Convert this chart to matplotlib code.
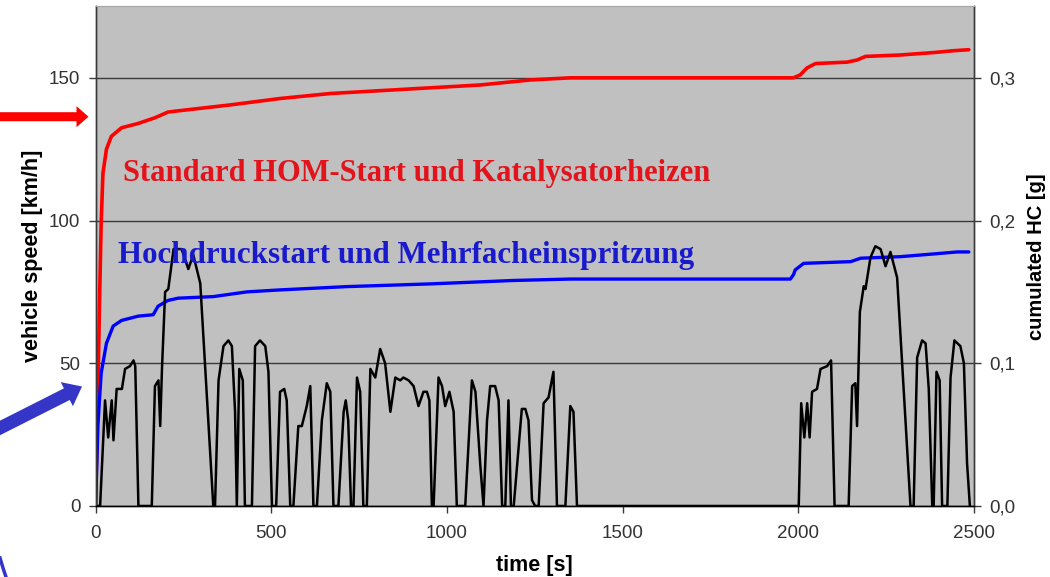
import matplotlib
matplotlib.use('Agg')
import matplotlib.pyplot as plt
from matplotlib.patches import FancyArrow
from matplotlib.ticker import FuncFormatter

# FTP-75 vehicle speed, split by test phase (time [s], speed [km/h])
cold_t = [0, 13, 27, 36, 46, 51, 56, 60, 75, 84, 98, 108, 113, 122, 160, 169, 179, 184, 189, 198,
          207, 222, 245, 264, 278, 298, 335, 340, 350, 364, 378, 388, 397, 402, 409, 419, 425, 445,
          454, 468, 483, 492, 502]
cold_v = [0, 0, 37, 24, 37, 23, 33, 41, 41, 48, 49, 51, 49, 0, 0, 42, 44, 28, 48, 75,
          76, 90, 90, 83, 88, 78, 0, 0, 44, 56, 58, 56, 33, 0, 48, 44, 0, 0,
          56, 58, 56, 47, 0]

stab_t = [514, 525, 537, 544, 554, 563, 577, 587, 601, 611, 620, 630, 644, 658, 668, 677, 691, 706,
          712, 719, 727, 734, 744, 753, 762, 772, 782, 796, 810, 824, 839, 853, 867, 876, 891, 905,
          919, 933, 943, 950, 957, 962, 976, 986, 995, 1007, 1019, 1028, 1052, 1071, 1081, 1095,
          1104, 1114, 1123, 1137, 1147, 1157, 1166, 1175, 1182, 1190, 1213, 1223, 1232, 1242, 1251,
          1261, 1275, 1289, 1303, 1313, 1337, 1351, 1360, 1370]
stab_v = [0, 40, 41, 37, 0, 0, 28, 28, 35, 42, 0, 0, 30, 43, 40, 0, 0, 33,
          37, 30, 0, 0, 45, 40, 0, 0, 48, 45, 55, 50, 33, 45, 44, 45, 44, 42,
          35, 40, 40, 37, 0, 0, 45, 42, 35, 40, 33, 0, 0, 44, 40, 14,
          0, 30, 42, 42, 37, 0, 0, 37, 0, 0, 34, 34, 30, 2, 0,
          0, 36, 38, 47, 0, 0, 35, 33, 0]

hot_t = [2001, 2008, 2017, 2025, 2032, 2039, 2053, 2063, 2082, 2093, 2103, 2143, 2153, 2162, 2167,
         2175, 2186, 2191, 2205, 2219, 2234, 2248, 2262, 2281, 2319, 2328, 2338, 2352, 2362, 2371,
         2381, 2385, 2393, 2402, 2409, 2424, 2433, 2444, 2461, 2471, 2480, 2488]
hot_v = [0, 36, 24, 36, 24, 40, 41, 48, 49, 51, 0, 0, 42, 43, 28,
         68, 77, 76, 87, 91, 90, 84, 89, 80, 0, 0, 52, 58, 57, 41,
         0, 0, 47, 44, 0, 0, 45, 58, 56, 50, 15, 0]

# cumulated HC [g], standard HOM start with catalyst heating
std_t = [0, 5, 12, 16, 21, 31, 45, 74, 121, 169, 206, 240, 383, 525, 668, 810, 1095, 1237, 1351,
         1986, 2005, 2025, 2049, 2139, 2167, 2191, 2290, 2385, 2442, 2485]
std_hc = [0, 0.058, 0.151, 0.198, 0.233, 0.250, 0.259, 0.265, 0.268, 0.272, 0.276, 0.277, 0.281,
          0.2855, 0.289, 0.291, 0.295, 0.2985, 0.300, 0.300, 0.302, 0.307, 0.310, 0.311, 0.3125,
          0.315, 0.316, 0.3177, 0.319, 0.3197]

# cumulated HC [g], high-pressure start with multiple injection
hp_t = [0, 7, 16, 31, 50, 74, 121, 164, 178, 206, 235, 335, 430, 525, 715, 952, 1189, 1351, 1977,
        1986, 1991, 2015, 2149, 2177, 2291, 2385, 2452, 2485]
hp_hc = [0, 0.058, 0.093, 0.114, 0.126, 0.130, 0.133, 0.134, 0.140, 0.144, 0.1456, 0.1467, 0.150,
         0.1514, 0.1537, 0.1556, 0.158, 0.159, 0.159, 0.162, 0.1654, 0.170, 0.1712, 0.1736, 0.1747,
         0.1766, 0.178, 0.178]

speed_ticks = [0, 50, 100, 150]
hc_ticks = [0.0, 0.1, 0.2, 0.3]
time_ticks = [0, 500, 1000, 1500, 2000, 2500]

time_s = cold_t + stab_t + hot_t
speed_kmh = cold_v + stab_v + hot_v

plt.rcParams['font.family'] = ['Liberation Sans', 'DejaVu Sans']

fig = plt.figure(figsize=(10.5, 5.77), dpi=100)
fig.patch.set_facecolor('white')

ax = fig.add_axes([0.0910, 0.1231, 0.8367, 0.8657])
ax2 = ax.twinx()

# HC curves on the secondary axis, speed drawn above them
ax.set_zorder(ax2.get_zorder() + 1)
ax.patch.set_visible(False)
ax2.patch.set_visible(True)
ax2.patch.set_facecolor('#c0c0c0')

ax2.plot(std_t, std_hc, color='#ff0000', lw=2.6, solid_capstyle='round')
ax2.plot(hp_t, hp_hc, color='#0000ff', lw=2.4, solid_capstyle='round')
ax.plot(time_s, speed_kmh, color='black', lw=1.8)

ax.set_xlim(0, 2500)
ax.set_ylim(0, 175)
ax2.set_ylim(0, 0.35)

ax.set_xticks(time_ticks)
ax.set_yticks(speed_ticks)
ax2.set_yticks(hc_ticks)
ax2.yaxis.set_major_formatter(FuncFormatter(lambda v, p: f'{v:.1f}'.replace('.', ',')))

ax2.set_axisbelow(True)
ax2.yaxis.grid(True, color='#3a3a3a', lw=1.0)

for a in (ax, ax2):
    a.tick_params(length=5, width=1.0, color='#3a3a3a', labelsize=13.5,
                  labelcolor='#333333', direction='out', pad=6)
    for side in ('left', 'right', 'bottom'):
        a.spines[side].set_color('#3a3a3a')
        a.spines[side].set_linewidth(1.0)
    a.spines['top'].set_color('#a8a8a8')
    a.spines['top'].set_linewidth(0.8)
ax.spines['bottom'].set_color('black')
ax.tick_params(axis='x', pad=9)

ax.set_xlabel('time [s]', fontsize=15.5, fontweight='bold', labelpad=9)
ax.set_ylabel('vehicle speed [km/h]', fontsize=15.5, fontweight='bold', labelpad=4)
ax2.set_ylabel('cumulated HC [g]', fontsize=14.5, fontweight='bold', labelpad=8)

serif = ['Liberation Serif', 'DejaVu Serif']
ax.text(79, 113.7, 'Standard HOM-Start und Katalysatorheizen', color='#e3131b',
        fontsize=22, fontweight='bold', family=serif, ha='left', va='baseline')
ax.text(64, 85.0, 'Hochdruckstart und Mehrfacheinspritzung', color='#1a1acd',
        fontsize=22.3, fontweight='bold', family=serif, ha='left', va='baseline')

# pointer arrows in the left margin, drawn in pixel units
over = fig.add_axes([0, 0, 1, 1], zorder=10)
over.set_xlim(0, 1050)
over.set_ylim(577, 0)
over.axis('off')
over.add_patch(FancyArrow(-5, 116.7, 93.5, 0, width=9, head_width=21, head_length=12,
                          length_includes_head=True, color='#ff0000', lw=0))
over.add_patch(FancyArrow(-8, 432, 90, -45.5, width=13, head_width=27, head_length=17,
                          length_includes_head=True, color='#3535c8', lw=0))
over.plot([0, 3, 6], [558, 568, 577], color='#3535c8', lw=2.5)

fig.savefig('out.png', dpi=100, facecolor='white')
